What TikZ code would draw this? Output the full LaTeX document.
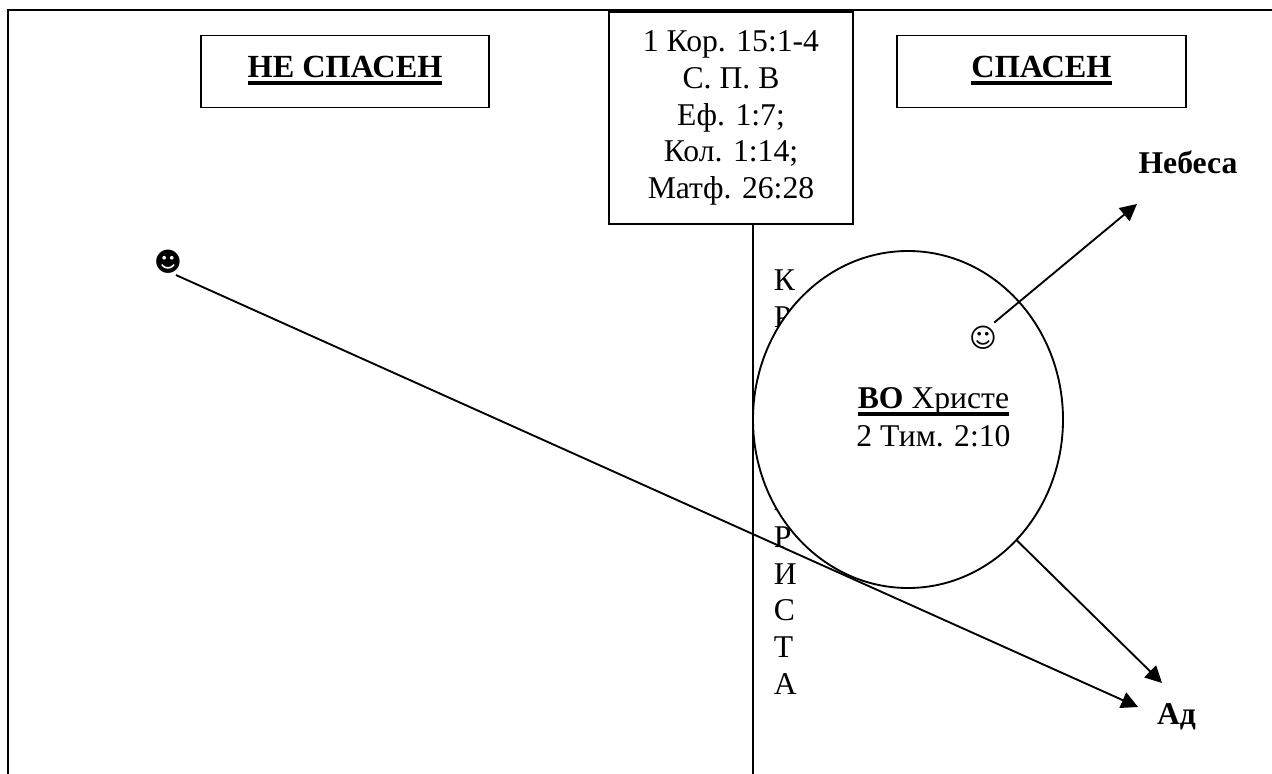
\documentclass[tikz,border=0pt]{standalone}
\usepackage{fontspec}
\setmainfont{Liberation Serif}
\newfontfamily\smilefont{DejaVu Sans}
\usetikzlibrary{arrows.meta,shapes.geometric}
\newsavebox{\ulbox}
\newcommand{\ultext}[1]{\sbox{\ulbox}{#1}\rlap{\rule[-5.25pt]{\wd\ulbox}{3pt}}\usebox{\ulbox}}
\tikzset{
  every node/.style={font=\fontsize{23.75}{27.5}\selectfont, align=center, inner sep=0pt},
  every path/.style={line width=1.4pt},
  titlebox/.style={draw, font=\fontsize{24.2}{27.5}\selectfont, text depth=6.75pt, minimum width=216.5pt, minimum height=54pt},
  placename/.style={font=\fontsize{23.75}{27.5}\selectfont\bfseries},
  smile/.style={circle, font=\smilefont\fontsize{20}{20}\selectfont},
  toarrow/.style={-{Triangle[length=12.5pt,width=12.5pt]}}
}
\begin{document}
\begin{tikzpicture}[x=.75pt,y=-.75pt]
\useasboundingbox (0,0) rectangle (1272,774);
\draw (1272,10) -- (8,10) -- (8,774);
\node[titlebox] (notsaved) at (345,71.5) {\ultext{\textbf{НЕ СПАСЕН}}};
\node[titlebox] (saved) at (1041.5,71.5) {\ultext{\textbf{СПАСЕН}}};
\coordinate (crossend) at (753,774);
\node[align=left, anchor=west] at (773,482) (bloodword) {К\\Р\\[4\baselineskip]Х\\Р\\И\\С\\Т\\А};
\node[draw, fill=white, minimum width=183pt, minimum height=159pt] (verses) at (731,118)
  {1 Кор. 15:1-4\\С. П. В\\Еф. 1:7;\\Кол. 1:14;\\Матф. 26:28};
\draw (verses.south -| crossend) -- (crossend);
\node[draw, ellipse, fill=white, minimum width=232.5pt, minimum height=252.75pt] (inchrist) at (908,419.5) {};
\node at (933.5,417.5) (inchristtext) {\ultext{\textbf{ВО} Христе}\\[.75pt]2 Тим. 2:10};
\node[placename] (heaven) at (1188,162) {Небеса};
\node[placename] (hell) at (1176.5,717) {Ад};
\node[smile] (lost) at (168,262) {☻};
\node[smile] (found) at (983,338) {☺};
\coordinate (heaventip) at (1137,204);
\coordinate (helltipa) at (1138,707);
\coordinate (helltipb) at (1162,683);
\draw[toarrow] ([shift={(-2.5,-3)}]lost.-57) -- (helltipa);
\draw[toarrow] (found.54) -- (heaventip);
\draw[toarrow] (inchrist.-48) -- (helltipb);
\end{tikzpicture}
\end{document}
